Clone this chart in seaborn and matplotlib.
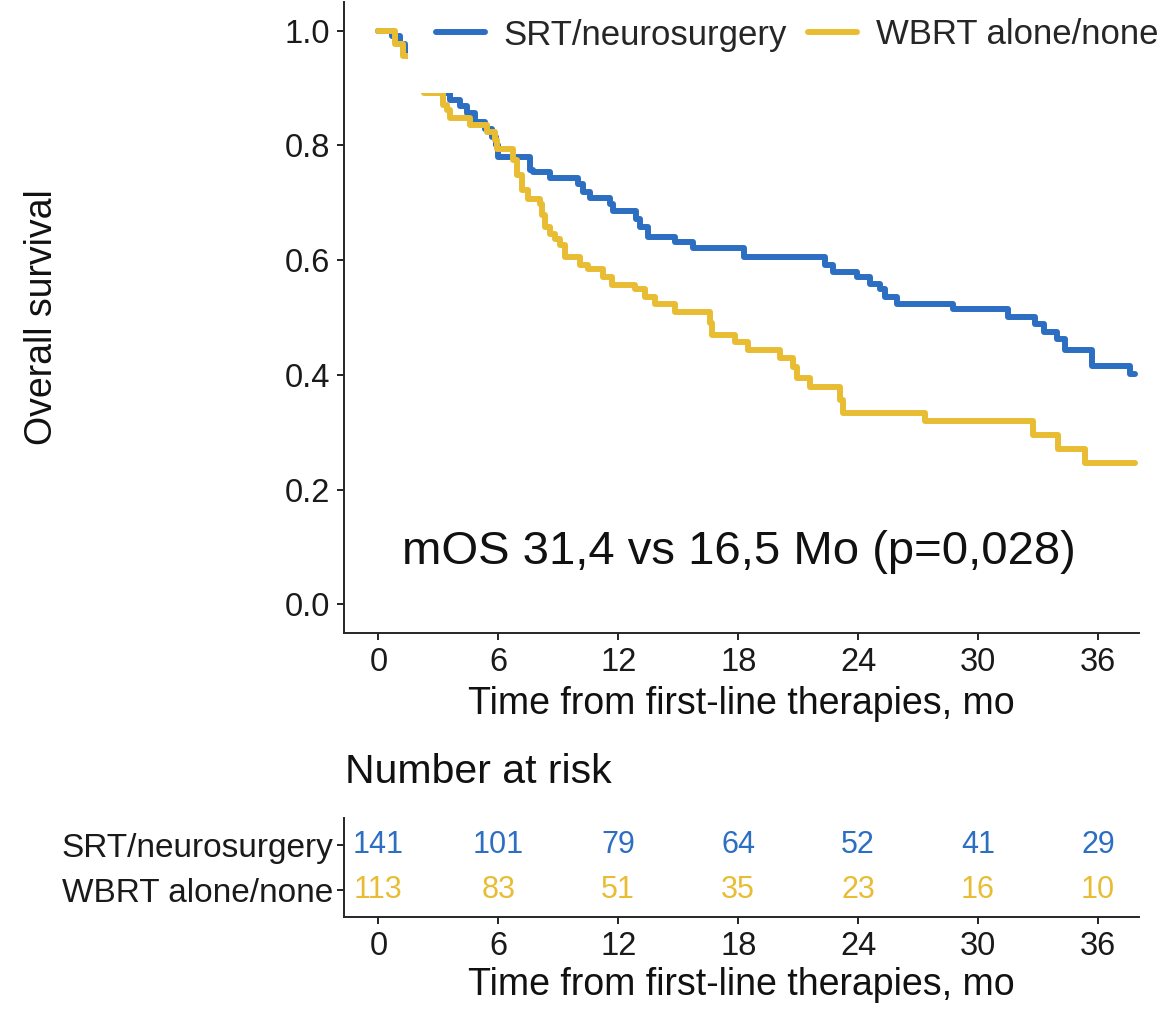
import numpy as np
import pandas as pd
import matplotlib
matplotlib.use("Agg")
import matplotlib.pyplot as plt
import seaborn as sns
from matplotlib.patches import Rectangle
from matplotlib.lines import Line2D

# ---------------- data ----------------
groups = ["SRT/neurosurgery", "WBRT alone/none"]
colors = ["#2C6EC2", "#E8BD34"]

srt_time = [0, 0.7, 1.1, 1.35, 1.7, 2.1, 2.6, 3.0, 3.6, 4.1, 4.45, 4.85, 5.35, 5.7,
            5.9, 6.0, 7.6, 7.75, 8.6, 10.0, 10.25, 10.6, 11.6, 11.75, 12.9, 13.1,
            13.5, 14.85, 15.75, 18.3, 22.35, 22.75, 23.95, 24.6, 25.1, 25.35, 25.95,
            28.75, 31.5, 32.85, 33.3, 33.95, 34.35, 35.7, 37.6, 37.85]
srt_surv = [1.0, 0.99, 0.976, 0.965, 0.95, 0.93, 0.91, 0.892, 0.880, 0.868, 0.857,
            0.841, 0.828, 0.815, 0.801, 0.779, 0.758, 0.753, 0.744, 0.732, 0.718,
            0.709, 0.697, 0.685, 0.671, 0.657, 0.641, 0.632, 0.622, 0.605, 0.592,
            0.580, 0.570, 0.559, 0.549, 0.535, 0.524, 0.514, 0.500, 0.488, 0.474,
            0.462, 0.444, 0.415, 0.401, 0.401]

wbrt_time = [0, 0.85, 1.25, 1.7, 2.0, 2.3, 3.25, 3.45, 3.6, 4.6, 5.45, 5.85, 5.95,
             6.75, 6.95, 7.2, 7.5, 8.1, 8.2, 8.35, 8.6, 8.85, 9.1, 9.35, 10.1, 10.5,
             11.25, 11.7, 12.85, 13.35, 13.85, 14.85, 16.6, 16.7, 17.85, 18.5, 20.1,
             20.75, 20.95, 21.6, 23.1, 23.25, 27.35, 32.75, 34.0, 35.35, 37.85]
wbrt_surv = [1.0, 0.976, 0.955, 0.94, 0.92, 0.892, 0.871, 0.862, 0.848, 0.836, 0.824,
             0.810, 0.793, 0.775, 0.749, 0.723, 0.706, 0.697, 0.679, 0.657, 0.645,
             0.636, 0.627, 0.605, 0.592, 0.584, 0.570, 0.557, 0.549, 0.535, 0.523,
             0.510, 0.491, 0.470, 0.458, 0.444, 0.430, 0.413, 0.395, 0.378, 0.357,
             0.334, 0.319, 0.296, 0.270, 0.247, 0.247]

risk_times = [0, 6, 12, 18, 24, 30, 36]
srt_risk = [141, 101, 79, 64, 52, 41, 29]
wbrt_risk = [113, 83, 51, 35, 23, 16, 10]

y_ticks = [0.0, 0.2, 0.4, 0.6, 0.8, 1.0]
annotation = "mOS 31,4 vs 16,5 Mo (p=0,028)"
xlabel = "Time from first-line therapies, mo"

# ---------------- style ----------------
sns.set_theme(style="ticks")
plt.rcParams["font.family"] = ["Liberation Sans", "DejaVu Sans"]
plt.rcParams["axes.linewidth"] = 1.4
plt.rcParams["xtick.major.width"] = 1.4
plt.rcParams["ytick.major.width"] = 1.4
plt.rcParams["xtick.major.size"] = 5
plt.rcParams["ytick.major.size"] = 5
plt.rcParams["xtick.color"] = "#222222"
plt.rcParams["ytick.color"] = "#222222"

W, H = 1172, 1010
fig = plt.figure(figsize=(W / 100, H / 100), dpi=100)

def fx(px):
    return px / W

def fy(py):
    return (H - py) / H

# main axes: x from 344 to 1139 px, y from 2 to 633 px
ax = fig.add_axes([fx(344), fy(633), fx(1139) - fx(344), fy(2) - fy(633)])

df = pd.concat([
    pd.DataFrame({"time": srt_time, "surv": srt_surv, "group": groups[0]}),
    pd.DataFrame({"time": wbrt_time, "surv": wbrt_surv, "group": groups[1]}),
], ignore_index=True)

sns.lineplot(data=df, x="time", y="surv", hue="group", palette=colors,
             hue_order=groups, estimator=None, errorbar=None, sort=False,
             drawstyle="steps-post", linewidth=4.3, ax=ax, legend=False)

ax.set_xlim(-1.72, 38.05)
ax.set_ylim(-0.05, 1.05)
ax.set_xticks(risk_times)
ax.set_yticks(y_ticks)
ax.set_yticklabels([f"{v:.1f}" for v in y_ticks])
ax.tick_params(axis="both", labelsize=23.5, pad=5, labelcolor="#1a1a1a")
ax.set_xlabel(xlabel, fontsize=27, labelpad=6, color="#111111")
ax.set_ylabel("Overall survival", fontsize=27, labelpad=162, color="#111111")
sns.despine(ax=ax)

ax.text(18.05, 0.092, annotation, fontsize=34, ha="center", va="center",
        color="#111111")

# white legend background covering the curves
ax.add_patch(Rectangle((fx(408), fy(93)), 1 - fx(408), fy(0) - fy(93),
                       transform=fig.transFigure, facecolor="white",
                       edgecolor="none", zorder=3, clip_on=False))
handles = [Line2D([0], [0], color=c, lw=4.3) for c in colors]
leg = ax.legend(handles, groups, loc="center left",
                bbox_to_anchor=(fx(436), fy(35)), bbox_transform=fig.transFigure,
                ncol=2, frameon=False, fontsize=25, handlelength=1.4,
                handletextpad=0.55, columnspacing=0.6, borderaxespad=0,
                borderpad=0)
leg.set_zorder(5)

# ---------------- risk table ----------------
ax2 = fig.add_axes([fx(344), fy(917), fx(1139) - fx(344), fy(818) - fy(917)])
ax2.set_xlim(-1.72, 38.05)
ax2.set_ylim(-0.6, 1.6)
for t, n in zip(risk_times, srt_risk):
    ax2.text(t, 1, str(n), color=colors[0], fontsize=22, ha="center", va="center")
for t, n in zip(risk_times, wbrt_risk):
    ax2.text(t, 0, str(n), color=colors[1], fontsize=22, ha="center", va="center")
ax2.set_yticks([1, 0])
ax2.set_yticklabels(groups)
ax2.set_xticks(risk_times)
ax2.tick_params(axis="x", labelsize=23.5, pad=5, labelcolor="#1a1a1a")
ax2.tick_params(axis="y", labelsize=24, pad=3, labelcolor="#1a1a1a")
ax2.set_xlabel(xlabel, fontsize=27, labelpad=4, color="#111111")
sns.despine(ax=ax2)

fig.text(fx(345), fy(772), "Number at risk", fontsize=29.5, ha="left",
         va="center", color="#111111")

fig.savefig("out.png", dpi=100)
